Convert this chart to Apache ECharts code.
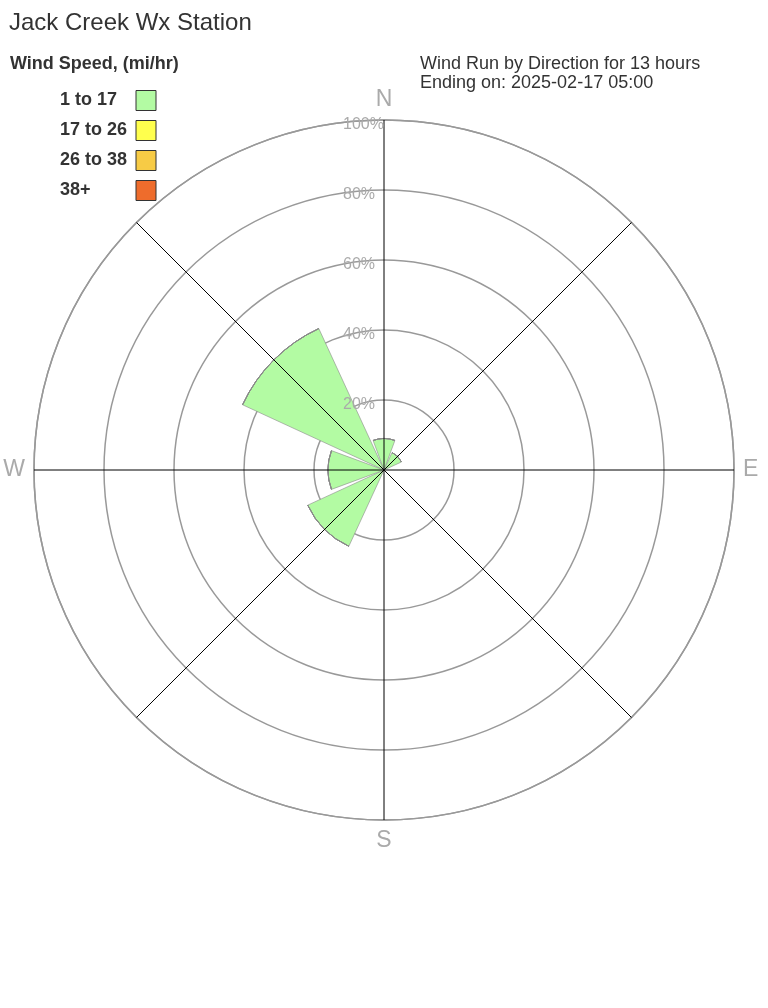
<!DOCTYPE html>
<html>
<head>
<meta charset="utf-8">
<script src="https://cdn.jsdelivr.net/npm/echarts@6/dist/echarts.min.js"></script>
<style>html,body{margin:0;padding:0;background:#fff}#c{width:768px;height:1008px}</style>
</head>
<body>
<div id="c"></div>
<script>
const directions = ['N', 'NE', 'E', 'SE', 'S', 'SW', 'W', 'NW'];
const speedBins = ['1 to 17', '17 to 26', '26 to 38', '38+'];
const binColors = ['#b3fba3', '#ffff4d', '#f7cb45', '#ee6c2c'];
const bin1 = [9, 5.5, 0, 0, 0, 24, 16, 44.5];
const bin2 = [0, 0, 0, 0, 0, 0, 0, 0];
const bin3 = [0, 0, 0, 0, 0, 0, 0, 0];
const bin4 = [0, 0, 0, 0, 0, 0, 0, 0];
const binValues = [bin1, bin2, bin3, bin4];
const radiusTicks = [0, 20, 40, 60, 80, 100];
const shownDirLabels = ['N', 'E', 'S', 'W'];

const font = 'Liberation Sans, Arial, sans-serif';
const chart = echarts.init(document.getElementById('c'));
const center = [384, 470];
const R = 350;

const option = {
  backgroundColor: '#fff',
  animation: false,
  textStyle: { fontFamily: font },
  title: [
    { text: 'Jack Creek Wx Station', left: 9, top: 11, padding: 0, textStyle: { fontSize: 24, fontWeight: 'normal', color: '#333', fontFamily: font } },
    { text: 'Wind Speed, (mi/hr)', left: 10, top: 55, padding: 0, textStyle: { fontSize: 18, fontWeight: 'bold', color: '#333', fontFamily: font } },
    { text: 'Wind Run by Direction for 13 hours\nEnding on: 2025-02-17 05:00', left: 420, top: 55, padding: 0,
      textStyle: { fontSize: 18, fontWeight: 'normal', color: '#333', lineHeight: 19, fontFamily: font } }
  ],
  legend: {
    orient: 'vertical', left: 60, top: 90, padding: 0, itemWidth: 20, itemHeight: 20, itemGap: 9,
    align: 'right', icon: 'rect', selectedMode: false,
    data: speedBins.map((n, i) => ({ name: n, icon: 'rect', itemStyle: { color: binColors[i], borderColor: '#333', borderWidth: 1 } })),
    textStyle: { fontSize: 18, fontWeight: 'bold', color: '#333', fontFamily: font, lineHeight: 20,
      rich: { t: { width: 71, align: 'left', fontSize: 18, fontWeight: 'bold', color: '#333', fontFamily: font, lineHeight: 20 } } },
    formatter: n => '{t|' + n + '}'
  },
  polar: [
    { center: center, radius: R },
    { center: center, radius: R }
  ],
  angleAxis: [
    {
      polarIndex: 0, type: 'category', data: directions, startAngle: 90 + 22.5, clockwise: true,
      boundaryGap: true,
      axisLine: { show: true, lineStyle: { color: '#999', width: 1.5 } },
      axisTick: { show: false },
      splitLine: { show: false },
      axisLabel: { show: true, margin: 9, color: '#aaa', fontSize: 23, fontFamily: font,
        formatter: v => shownDirLabels.includes(v) ? v : '' },
      z: 0
    },
    {
      polarIndex: 1, type: 'value', min: 0, max: 360, interval: 45, startAngle: 90, clockwise: true,
      axisLine: { show: false }, axisTick: { show: false }, axisLabel: { show: false },
      splitLine: { show: true, lineStyle: { color: '#000', width: 1 } },
      z: 5
    }
  ],
  radiusAxis: [
    {
      polarIndex: 0, type: 'value', min: 0, max: 100, interval: 20,
      axisLine: { show: false }, axisTick: { show: false }, axisLabel: { show: false },
      splitLine: { show: true, lineStyle: { color: '#999', width: 1.5 } },
      z: 0
    },
    {
      polarIndex: 1, type: 'value', min: 0, max: 100, interval: 20,
      axisLine: { show: false }, axisTick: { show: false }, splitLine: { show: false },
      axisLabel: { show: true, color: '#aaa', fontSize: 16, fontFamily: font, margin: 41,
        align: 'left', verticalAlign: 'top', lineHeight: 10,
        formatter: v => (v === 0 ? '' : v + '%') },
      z: 10
    }
  ],
  series: speedBins.map((name, i) => ({
    name: name, type: 'bar', coordinateSystem: 'polar', polarIndex: 0, stack: 'wind',
    barCategoryGap: '10%', z: 2,
    itemStyle: { color: binColors[i], borderColor: '#8a8a8a', borderWidth: 0.6 },
    data: binValues[i]
  }))
};
chart.setOption(option);
</script>
</body>
</html>
